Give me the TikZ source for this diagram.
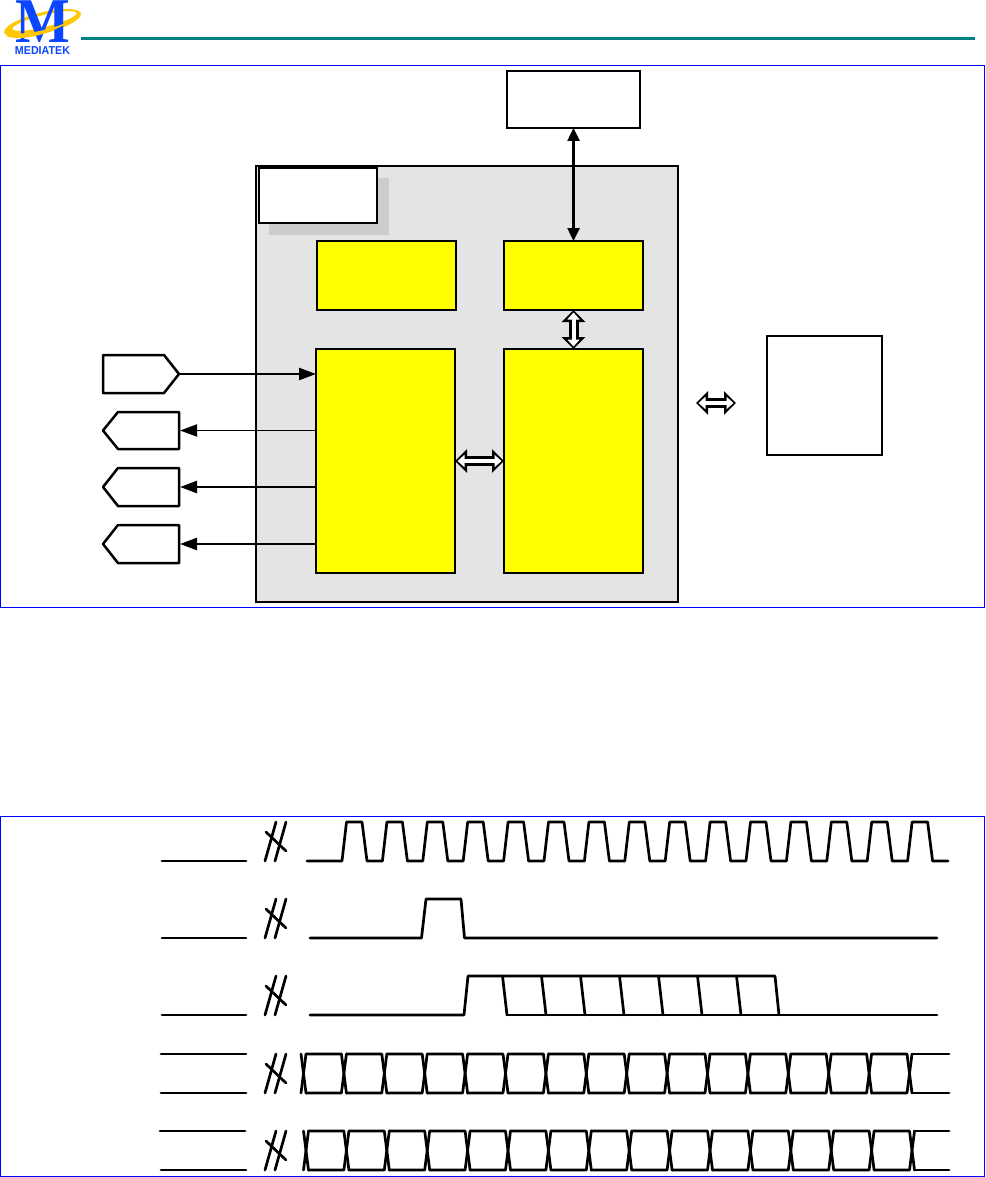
\documentclass[tikz,border=0pt]{standalone}
\usepackage{fontspec}
\setmainfont{Liberation Sans}
\newfontfamily\logoserif{Liberation Serif}
\usetikzlibrary{arrows.meta}
\definecolor{frameblue}{HTML}{0000FF}
\definecolor{logoblue}{HTML}{0A46FF}
\definecolor{logoring}{HTML}{FFC800}
\definecolor{headteal}{HTML}{008080}
\definecolor{panelgray}{HTML}{E4E4E4}
\definecolor{shadowgray}{HTML}{CCCCCC}
\definecolor{blockyellow}{HTML}{FFFF00}
\tikzset{
  boxbase/.style={rectangle,draw=black,line width=2.5pt,inner sep=0pt,outer sep=0pt,anchor=center},
  whitebox/.style={boxbase,fill=white},
  yellowbox/.style={boxbase,fill=blockyellow},
  framebox/.style={draw=frameblue,line width=1pt},
  wave/.style={draw=black,line width=2.7pt,line join=round,line cap=round},
  portshape/.style={draw=black,fill=white,line width=2.5pt,line join=round},
  sigarrow/.style={draw=black,line width=2.5pt,-{Triangle[length=17pt,width=12pt]}},
  thinarrow/.style={draw=black,line width=1.8pt,-{Triangle[length=17pt,width=12pt]}},
  botharrow/.style={draw=black,line width=2.5pt,{Triangle[length=13pt,width=12pt]}-{Triangle[length=13pt,width=12pt]}},
  hollowouter/.style={draw=black,line width=10pt,{Triangle[length=12pt,width=23pt]}-{Triangle[length=12pt,width=23pt]}},
  hollowinner/.style={draw=white,line width=4pt,{Triangle[length=7pt,width=12pt]}-{Triangle[length=7pt,width=12pt]},shorten >=2.5pt,shorten <=2.5pt},
}
\newcommand{\hollowlink}[2]{%
  \draw[hollowouter] (#1) -- (#2);
  \draw[hollowinner] (#1) -- (#2);}
\newcommand{\buscross}[2]{% x offset, bottom y
  \draw[wave] (#1+265,#2) -- (#1+276,#2-39);
  \draw[wave] (#1+275,#2) -- (#1+286,#2-39);
  \draw[wave] (#1+266,#2-29) -- (#1+286,#2-10);}
\newcommand{\busrow}[3]{% first crossing x, top y, bottom y
  \draw[wave] ({#1-2.5},#2) -- ({#1+2.5},#3);
  \draw[wave] ({#1-2.5},#3) -- ({#1+2.5},#2);
  \foreach \i in {1,...,15}{
    \draw[wave] ({#1+2.5+40.4*(\i-1)},#2) -- ({#1-2.5+40.4*\i},#2) -- ({#1+2.5+40.4*\i},#3);
    \draw[wave] ({#1+2.5+40.4*(\i-1)},#3) -- ({#1-2.5+40.4*\i},#3) -- ({#1+2.5+40.4*\i},#2);
  }
  \draw[wave] ({#1+2.5+606},#2) -- (949,#2);
  \draw[wave] ({#1+2.5+606},#3) -- (949,#3);}
\begin{document}
\begin{tikzpicture}[x=1pt,y=-1pt]
\useasboundingbox (0,0) rectangle (985,1177);
% header
\fill[logoring,even odd rule,rotate around={14:(42.5,23)}]
  (42.5,23) ellipse [x radius=39.5,y radius=10.5]
  (45,21.5) ellipse [x radius=33,y radius=6];
\node[font=\logoserif\bfseries\fontsize{58}{58}\selectfont,text=logoblue,inner sep=0pt,anchor=base,yscale=1.1,transform shape] (logoM) at (42.5,43) {M};
\fill[logoring,rotate around={14:(42.5,23)}]
  (4,27) .. controls (20,37) and (50,35) .. (70,28) .. controls (50,31) and (25,31.5) .. (10,25) -- cycle;
\node[font=\bfseries\fontsize{11.5}{12}\selectfont,text=logoblue,inner sep=0pt,anchor=center,xscale=.93,transform shape] (logoT) at (42.5,51) {MEDIATEK};
\fill[headteal] (81,37) rectangle (975,40);
% frames
\draw[framebox] (0.5,65.5) rectangle (984.5,607);
\draw[framebox] (0.5,816.5) rectangle (984.5,1176.5);
% block diagram
\node[boxbase,fill=panelgray,minimum width=422pt,minimum height=436pt] (panel) at (467,384) {};
\fill[shadowgray] (269,178) rectangle (389,235);
\node[whitebox,minimum width=118pt,minimum height=55pt] (tag) at (318,195.5) {};
\node[whitebox,minimum width=133pt,minimum height=57pt] (ext) at (573.5,99.5) {};
\node[whitebox,minimum width=115pt,minimum height=119pt] (side) at (824.5,395.5) {};
\node[yellowbox,minimum width=139pt,minimum height=69pt] (ya) at (386.5,275.5) {};
\node[yellowbox,minimum width=139pt,minimum height=69pt] (yb) at (573.5,275.5) {};
\node[yellowbox,minimum width=139pt,minimum height=224pt] (yc) at (385.5,461) {};
\node[yellowbox,minimum width=139pt,minimum height=224pt] (yd) at (573.5,461) {};
% ports
\draw[portshape] (103,355) -- (164,355) -- (179,374) -- (164,393) -- (103,393) -- cycle;
\draw[portshape] (179,412) -- (118,412) -- (103,430.5) -- (118,449) -- (179,449) -- cycle;
\draw[portshape] (179,468) -- (118,468) -- (103,487) -- (118,506) -- (179,506) -- cycle;
\draw[portshape] (179,525) -- (118,525) -- (103,544) -- (118,563) -- (179,563) -- cycle;
\coordinate (p1) at (180,374);
\coordinate (p2) at (180,430.5);
\coordinate (p3) at (180,487);
\coordinate (p4) at (180,544);
\coordinate (f1) at (696,403);
\coordinate (f2) at (736,403);
\draw[sigarrow] (p1) -- (p1 -| yc.west);
\draw[thinarrow] (p2 -| yc.west) -- (p2);
\draw[sigarrow] (p3 -| yc.west) -- (p3);
\draw[sigarrow] (p4 -| yc.west) -- (p4);
\draw[botharrow] (ext.south) -- (yb.north);
\hollowlink{yb.south}{yd.north}
\hollowlink{yc.east}{yd.west}
\hollowlink{f1}{f2}
% timing
\buscross{0}{861}
\buscross{0}{938}
\buscross{0}{1015}
\buscross{0}{1093}
\buscross{0}{1170}
\draw[wave] (162,861) -- (246,861);
\draw[wave] (162,938) -- (246,938);
\draw[wave] (162,1015) -- (246,1015);
\draw[wave] (161,1054) -- (246,1054);
\draw[wave] (161,1093) -- (246,1093);
\draw[wave] (160,1131) -- (245,1131);
\draw[wave] (161,1170) -- (246,1170);
\draw[wave] (307,861) \foreach \i in {0,...,14}{
  -- ({342+40.4*\i},861) -- ({346.5+40.4*\i},822) -- ({362+40.4*\i},822) -- ({367+40.4*\i},861)} -- (948,861);
\draw[wave] (310,938) -- (421.5,938) -- (426,899) -- (461,899) -- (464.5,938) -- (937,938);
\draw[wave] (310,1015) -- (464,1015) -- (468,976) -- (775,976) -- (779,1015);
\draw[wave] (507,1015) -- (937,1015);
\foreach \i in {0,...,6}{
  \draw[wave] ({502.5+39*\i},976) -- ({507+39*\i},1015);
}
\busrow{303.5}{1054}{1093}
\busrow{306}{1131}{1170}
\end{tikzpicture}
\end{document}
